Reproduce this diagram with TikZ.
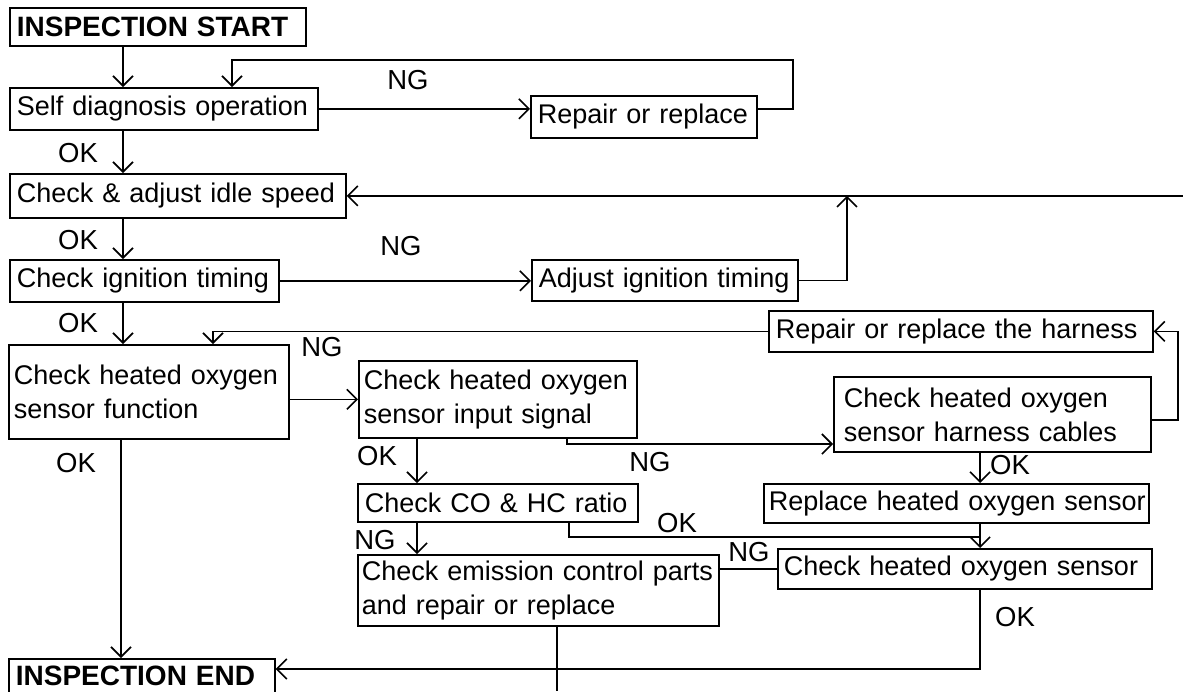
\documentclass[tikz,border=0pt]{standalone}
\usepackage{fontspec}
\setmainfont{Liberation Sans}
\usetikzlibrary{arrows.meta}
\begin{document}
\begin{tikzpicture}[x=1pt,y=-1pt,
  box/.style={draw, line width=1.7pt, anchor=north west, inner xsep=7pt, inner ysep=0pt,
    align=left, font=\fontsize{27}{34}\selectfont},
  lbl/.style={inner sep=0pt, font=\fontsize{27.5}{30}\selectfont},
  conn/.style={line width=1.6pt},
  arr/.style={conn, -{Straight Barb[length=10pt,width=20pt,line width=1.6pt]}}
]
\useasboundingbox[fill=white] (0,0) rectangle (1183,691);

% boxes
\node[box, minimum width=296pt, minimum height=38pt, text width=282pt] (start) at (9,7) {\fontsize{28}{34}\selectfont\bfseries\makebox[278pt][s]{INSPECTION START}};
\node[box, minimum width=308pt, minimum height=42pt, text width=294pt] (selfdiag) at (9,87) {Self diagnosis operation};
\node[box, minimum width=226pt, minimum height=42pt, text width=212pt] (repair1) at (530,95) {Repair or replace};
\node[box, minimum width=336pt, minimum height=44pt, text width=322pt] (idle) at (9,173) {Check \& adjust idle speed};
\node[box, minimum width=269pt, minimum height=42pt, text width=255pt] (ignition) at (9,259) {Check ignition timing};
\node[box, minimum width=266pt, minimum height=41pt, text width=252pt] (adjust) at (531,259) {Adjust ignition timing};
\node[box, minimum width=280pt, minimum height=94pt, text width=270pt, inner xsep=5pt] (function) at (8,344) {Check heated oxygen\\sensor function};
\node[box, minimum width=384pt, minimum height=41pt, text width=370pt] (harness) at (768,310) {Repair or replace the harness};
\node[box, minimum width=278pt, minimum height=77pt, text width=268pt, inner xsep=5pt] (input) at (358,360) {Check heated oxygen\\sensor input signal};
\node[box, minimum width=317pt, minimum height=75pt, text width=297pt, inner xsep=10pt] (cables) at (833,376) {\makebox[297pt][s]{Check heated oxygen}\\\makebox[283pt][s]{sensor harness cables}};
\node[box, minimum width=280pt, minimum height=38pt, text width=266pt] (co) at (357,483) {Check CO \& HC ratio};
\node[box, minimum width=385pt, minimum height=39pt, text width=375pt, inner xsep=5pt] (replace) at (763,483) {\makebox[373pt][s]{Replace heated oxygen sensor}};
\node[box, minimum width=361pt, minimum height=71pt, text width=353pt, inner xsep=4pt] (emission) at (357,554) {Check emission control parts\\and repair or replace};
\node[box, minimum width=374pt, minimum height=40pt, text width=362pt, inner xsep=6pt] (sensor) at (777,548) {\makebox[360pt][s]{Check heated oxygen sensor}};
\node[box, minimum width=266pt, minimum height=34pt, text width=252pt] (end) at (8,658) {\fontsize{28}{34}\selectfont\bfseries\makebox[245pt][s]{INSPECTION END}};

% labels
\node[lbl] (ng1) at (408,80) {NG};
\node[lbl] (ok1) at (78,153) {OK};
\node[lbl] (ok2) at (78,240) {OK};
\node[lbl] (ng2) at (401,246) {NG};
\node[lbl] (ok3) at (78,323) {OK};
\node[lbl] (ng3) at (322,347) {NG};
\node[lbl] (ok4) at (76,463) {OK};
\node[lbl] (ok5) at (377,456) {OK};
\node[lbl] (ng4) at (650,462) {NG};
\node[lbl] (ok7) at (1010,465) {OK};
\node[lbl] (ok6) at (677,523) {OK};
\node[lbl] (ng5) at (375,540) {NG};
\node[lbl] (ng6) at (749,552) {NG};
\node[lbl] (ok8) at (1015,617) {OK};

% connectors
\coordinate (mainx) at (123,0);
\draw[arr] (mainx |- start.south) -- (mainx |- selfdiag.north);
\draw[arr] (selfdiag.east) -- (selfdiag.east -| repair1.west);
\draw[arr] (repair1.east |- 0,109) -- (793,109) -- (793,60) -- (232,60) -- (232,0 |- selfdiag.north);
\draw[arr] (mainx |- selfdiag.south) -- (mainx |- idle.north);
\draw[arr] (idle.east -| 1183,0) -- (idle.east);
\draw[arr] (mainx |- idle.south) -- (mainx |- ignition.north);
\draw[arr] (ignition.east) -- (ignition.east -| adjust.west);
\draw[arr] (adjust.east) -- (adjust.east -| 847,0) -- (847,0 |- idle.east);
\draw[arr] (mainx |- ignition.south) -- (mainx |- function.north);
\draw[arr] (harness.west) -- (harness.west -| 213,0) -- (213,0 |- function.north);
\draw[arr] (input.west -| function.east) -- (input.west);
\draw[arr] (121,0 |- function.south) -- (121,0 |- end.north);
\draw[arr] (567,0 |- input.south) -- (567,444) -- (cables.west |- 0,444);
\draw[arr] (417,0 |- input.south) -- (417,0 |- co.north);
\draw[arr] (cables.east |- 0,420) -- (1178,420) -- (1178,0 |- harness.east) -- (harness.east);
\draw[arr] (980,0 |- cables.south) -- (980,0 |- replace.north);
\draw[arr] (980,0 |- replace.south) -- (980,0 |- sensor.north);
\draw[conn] (569,0 |- co.south) -- (569,537) -- (980,537);
\draw[arr] (417,0 |- co.south) -- (417,0 |- emission.north);
\draw[conn] (sensor.west) -- (sensor.west -| emission.east);
\draw[arr] (980,0 |- sensor.south) -- (980,669) -- (end.east |- 0,669);
\draw[conn] (557,0 |- emission.south) -- (557,691);
\end{tikzpicture}
\end{document}
